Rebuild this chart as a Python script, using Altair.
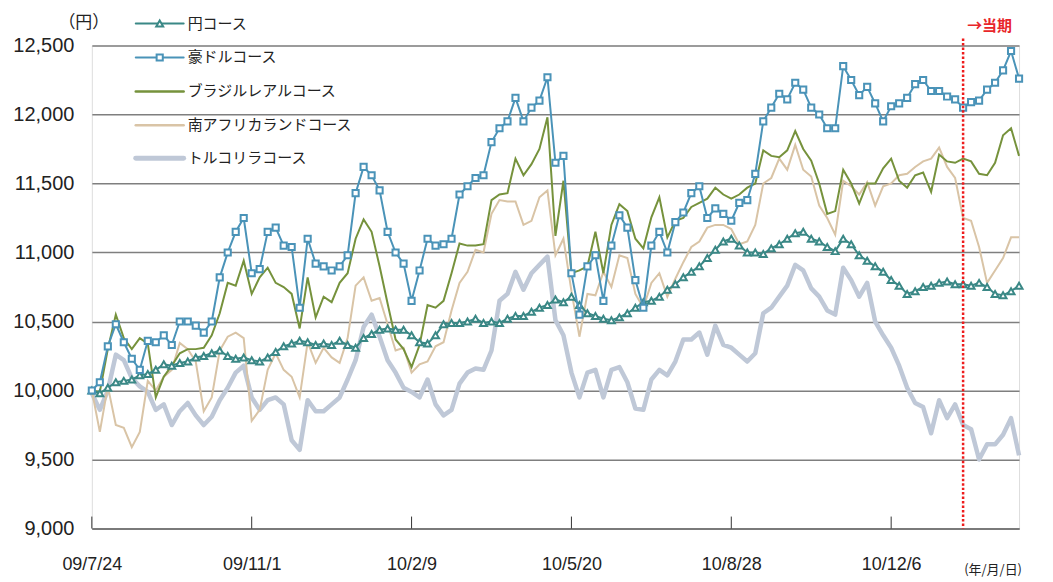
import altair as alt
import pandas as pd

# ---------------- data ----------------
start = "2009-07-24"
dates = [d.strftime("%Y-%m-%d") for d in pd.date_range(start, periods=117, freq="5D")]

yen = [10000, 9980, 10020, 10060, 10070, 10080, 10110, 10120, 10150, 10190,
       10180, 10200, 10210, 10240, 10250, 10270, 10290, 10250, 10230, 10240,
       10220, 10210, 10240, 10280, 10320, 10340, 10360, 10350, 10330, 10340,
       10330, 10360, 10330, 10310, 10380, 10410, 10440, 10450, 10440, 10440,
       10400, 10350, 10340, 10400, 10480, 10490, 10490, 10500, 10520, 10490,
       10500, 10490, 10520, 10540, 10540, 10570, 10600, 10620, 10660, 10640,
       10680, 10620, 10560, 10540, 10520, 10510, 10530, 10560, 10600, 10640,
       10650, 10680, 10730, 10770, 10820, 10860, 10900, 10960, 11020, 11080,
       11100, 11050, 11000, 11000, 10990, 11030, 11060, 11100, 11140, 11150,
       11100, 11080, 11040, 11010, 11100, 11060, 10980, 10940, 10900, 10860,
       10800, 10760, 10700, 10720, 10750, 10760, 10780, 10790, 10770, 10770,
       10760, 10780, 10750, 10700, 10690, 10720, 10760]

aud = [10000, 10060, 10320, 10480, 10350, 10230, 10150, 10360, 10350, 10400,
       10330, 10500, 10500, 10470, 10420, 10500, 10820, 11000, 11150, 11250,
       10850, 10880, 11150, 11180, 11050, 11040, 10600, 11100, 10920, 10900,
       10870, 10900, 10980, 11430, 11620, 11560, 11450, 11150, 11000, 10920,
       10650, 10870, 11100, 11050, 11060, 11100, 11420, 11480, 11540, 11560,
       11800, 11900, 11950, 12120, 11950, 12050, 12100, 12270, 11650, 11700,
       10850, 10550, 10900, 10980, 10650, 11050, 11270, 11180, 10800, 10600,
       11050, 11150, 11000, 11220, 11290, 11430, 11480, 11250, 11320, 11280,
       11230, 11360, 11380, 11570, 11950, 12050, 12150, 12110, 12230, 12180,
       12050, 12000, 11900, 11900, 12350, 12250, 12140, 12200, 12080, 11950,
       12060, 12080, 12120, 12220, 12250, 12170, 12170, 12130, 12110, 12050,
       12090, 12100, 12180, 12230, 12320, 12460, 12260]

brl = [10000, 9990, 10300, 10550, 10380, 10300, 10380, 10340, 9950, 10100,
       10180, 10270, 10300, 10300, 10310, 10400, 10560, 10780, 10760, 10940,
       10700, 10820, 10890, 10780, 10750, 10700, 10450, 10820, 10530, 10680,
       10640, 10780, 10850, 11100, 11240, 11150, 10900, 10630, 10370, 10300,
       10170, 10330, 10620, 10600, 10650, 10850, 11065, 11050, 11050, 11060,
       11380, 11420, 11430, 11680, 11560, 11640, 11750, 11980, 11120, 11520,
       10850, 10870, 10900, 11150, 10850, 11200, 11350, 11300, 11100, 11030,
       11255, 11400, 11110, 11230, 11250, 11330, 11360, 11390, 11470, 11420,
       11390, 11420, 11470, 11500, 11740, 11700, 11690, 11740, 11880, 11750,
       11665, 11500, 11280, 11300, 11600, 11500, 11355, 11500, 11500, 11610,
       11680, 11520, 11470, 11560, 11580, 11440, 11710, 11660, 11650, 11680,
       11660, 11570, 11560, 11650, 11850, 11900, 11700]

zar = [10000, 9700, 10030, 9750, 9730, 9590, 9700, 10070, 10000, 10100,
       10150, 10345, 10300, 10210, 9850, 9950, 10290, 10390, 10420, 10380,
       9780, 9860, 10150, 10270, 10150, 10100, 9950, 10350, 10200, 10310,
       10240, 10200, 10380, 10760, 10820, 10650, 10670, 10480, 10290, 10310,
       10130, 10190, 10210, 10320, 10350, 10580, 10780, 10860, 11020, 11000,
       11280, 11380, 11370, 11370, 11200, 11230, 11400, 11450, 10980, 11100,
       10720, 10390, 10700, 10690, 10860, 10750, 10980, 10960, 10700, 10600,
       10780, 10850, 10680, 10810, 10930, 11040, 11080, 11180, 11200, 11200,
       11170, 11060, 11080, 11200, 11500, 11540, 11680, 11600, 11780, 11600,
       11550, 11340, 11250, 11130, 11520, 11480, 11420, 11510, 11340, 11480,
       11500, 11560, 11570, 11620, 11660, 11680, 11760, 11620, 11540, 11250,
       11230, 11040, 10780, 10870, 10960, 11110, 11110]

trl = [9980, 9860, 10000, 10260, 10220, 10090, 10030, 9990, 9860, 9900,
       9750, 9850, 9910, 9820, 9750, 9810, 9930, 10020, 10130, 10180,
       9950, 9860, 9930, 9950, 9900, 9640, 9570, 9930, 9850, 9850,
       9900, 9950, 10080, 10220, 10460, 10550, 10390, 10220, 10130, 10020,
       9990, 9950, 10080, 9900, 9820, 9860, 10050, 10130, 10160, 10150,
       10290, 10650, 10700, 10860, 10730, 10850, 10910, 10970, 10510, 10400,
       10130, 9950, 10130, 10150, 9950, 10150, 10170, 10060, 9870, 9860,
       10080, 10150, 10110, 10210, 10370, 10370, 10420, 10260, 10470, 10330,
       10310, 10260, 10210, 10270, 10560, 10600, 10680, 10760, 10910, 10870,
       10740, 10680, 10580, 10550, 10890, 10800, 10680, 10780, 10500, 10400,
       10310, 10180, 10020, 9910, 9880, 9690, 9930, 9800, 9900, 9750,
       9720, 9500, 9610, 9610, 9680, 9800, 9530]

names = ["円コース", "豪ドルコース", "ブラジルレアルコース", "南アフリカランドコース", "トルコリラコース"]
colors = ["#3a8886", "#4a93b8", "#76923c", "#d9c4a6", "#bfc8d7"]
tick_dates = ["2009-07-24", "2009-11-01", "2010-02-09", "2010-05-20", "2010-08-28", "2010-12-06"]
current_date = ["2011-01-20"]
y_ticks = [9000, 9500, 10000, 10500, 11000, 11500, 12000, 12500]

NUM_FONT = "Liberation Sans"
JP_FONT = "Noto Sans CJK JP"

W, H = 929, 484

x_enc = alt.X(
    "date:T",
    scale=alt.Scale(
        type="utc",
        domain=[alt.DateTime(year=2009, month=7, date=24, utc=True),
                alt.DateTime(year=2011, month=2, date=24, utc=True)],
    ),
    axis=alt.Axis(
        values=[alt.DateTime(year=int(d[:4]), month=int(d[5:7]), date=int(d[8:]), utc=True) for d in tick_dates],
        format="%y/%-m/%-d",
        grid=False, ticks=False, domain=True, domainColor="#7a7a7a", domainWidth=2,
        labelFont=NUM_FONT, labelFontSize=18, labelColor="#222222", labelPadding=27,
        labelFlush=False, labelOverlap=False, title=None,
    ),
)
y_enc = alt.Y(
    "value:Q",
    scale=alt.Scale(domain=[9000, 12500], nice=False, zero=False),
    axis=alt.Axis(
        values=y_ticks, format=",d", grid=True, gridColor="#7f7f7f", gridWidth=1.5,
        domain=False, ticks=False, labelFont=NUM_FONT, labelFontSize=20,
        labelColor="#222222", labelPadding=18, title=None,
    ),
)


def frame(vals, name):
    return pd.DataFrame({"date": dates, "value": vals, "series": name})


layers = []
# Turkey (thick, bottom)
layers.append(alt.Chart(frame(trl, names[4])).mark_line(color=colors[4], strokeWidth=4.5, strokeJoin="round")
              .encode(x=x_enc, y=y_enc))
layers.append(alt.Chart(frame(zar, names[3])).mark_line(color=colors[3], strokeWidth=2)
              .encode(x=x_enc, y=y_enc))
layers.append(alt.Chart(frame(brl, names[2])).mark_line(color=colors[2], strokeWidth=2)
              .encode(x=x_enc, y=y_enc))
layers.append(alt.Chart(frame(yen, names[0])).mark_line(
    color=colors[0], strokeWidth=2,
    point=alt.OverlayMarkDef(shape="triangle-up", filled=False, fill="white", color=colors[0],
                             size=48, strokeWidth=2)).encode(x=x_enc, y=y_enc))
layers.append(alt.Chart(frame(aud, names[1])).mark_line(
    color=colors[1], strokeWidth=2,
    point=alt.OverlayMarkDef(shape="square", filled=False, fill="white", color=colors[1],
                             size=38, strokeWidth=2)).encode(x=x_enc, y=y_enc))

# upward tick marks on the x axis
layers.append(alt.Chart(pd.DataFrame({"date": tick_dates})).mark_rule(color="#333333", strokeWidth=1)
              .encode(x=x_enc, y=alt.value(H - 12), y2=alt.value(H)))

# current period marker
layers.append(alt.Chart(pd.DataFrame({"date": current_date})).mark_rule(
    color="#ee1c1c", strokeWidth=2.5, strokeDash=[2.5, 2])
    .encode(x=x_enc, y=alt.value(-7), y2=alt.value(H)))
layers.append(alt.Chart(pd.DataFrame({"t": ["→当期"]})).mark_text(
    font=JP_FONT, fontSize=15, fontWeight="bold", color="#e8262a", align="left", baseline="middle")
    .encode(text="t:N", x=alt.value(877), y=alt.value(-20)))

# unit label and axis-format label
layers.append(alt.Chart(pd.DataFrame({"t": ["（円）"]})).mark_text(
    font=JP_FONT, fontSize=17, color="#222222", align="center", baseline="middle")
    .encode(text="t:N", x=alt.value(-8), y=alt.value(-23)))
layers.append(alt.Chart(pd.DataFrame({"t": ["(年/月/日)"]})).mark_text(
    font=JP_FONT, fontSize=13, color="#222222", align="left", baseline="middle")
    .encode(text="t:N", x=alt.value(874), y=alt.value(526)))

# legend
leg_y = [-22, 12, 46, 80, 113]
leg_width = [2, 2, 2.5, 2.5, 5]
for i, nm in enumerate(names):
    one = pd.DataFrame({"t": [nm]})
    layers.append(alt.Chart(one).mark_rule(color=colors[i], strokeWidth=leg_width[i], strokeCap="round")
                  .encode(x=alt.value(44), x2=alt.value(92), y=alt.value(leg_y[i])))
    if i < 2:
        shape = "triangle-up" if i == 0 else "square"
        layers.append(alt.Chart(one).mark_point(shape=shape, filled=False, fill="white", color=colors[i],
                                                size=48 if i == 0 else 38, strokeWidth=2, opacity=1)
                      .encode(x=alt.value(68), y=alt.value(leg_y[i])))
    layers.append(alt.Chart(one).mark_text(font=JP_FONT, fontSize=15, color="#222222",
                                           align="left", baseline="middle")
                  .encode(text="t:N", x=alt.value(96), y=alt.value(leg_y[i])))

chart = alt.layer(*layers).properties(
    width=W, height=H,
    autosize=alt.AutoSizeParams(type="none"),
    padding={"left": 84, "top": 37, "right": 26, "bottom": 52},
).configure_view(stroke=None).configure(background="white")

chart.save("out.html", embed_options={"renderer": "svg", "actions": False})
